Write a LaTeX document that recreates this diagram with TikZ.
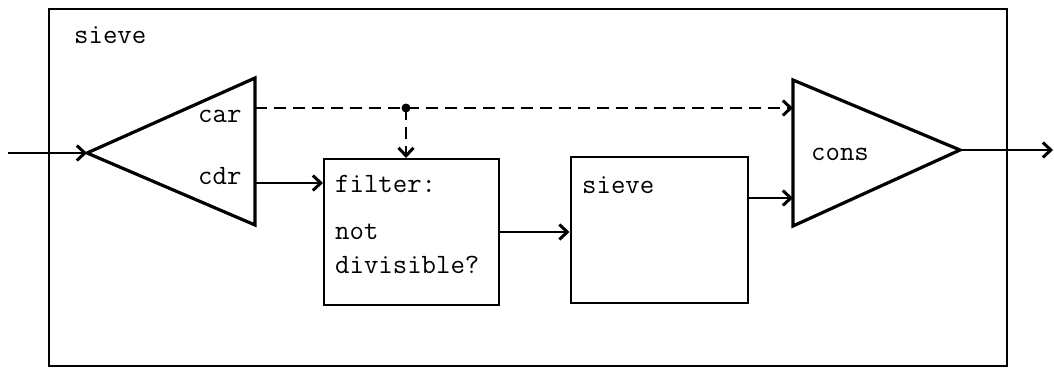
\documentclass[tikz,border=0pt]{standalone}
\usetikzlibrary{arrows.meta,calc}
\begin{document}
\begin{tikzpicture}[x=1pt,y=-1pt,
  arr/.style={-{Straight Barb[length=8pt,width=15pt,line width=3pt]},line width=1.8pt},
  boxstyle/.style={draw,line width=2pt,inner sep=0pt},
  tri/.style={line width=3.2pt,line join=miter},
  lbl/.style={font=\fontsize{28}{30}\selectfont\ttfamily,inner sep=0pt,anchor=base west}]
\useasboundingbox (0,0) rectangle (1054,367);
% outer box
\node[boxstyle,line width=2.6pt,minimum width=958pt,minimum height=357pt] (outer) at (528,187.5) {};
\node[lbl] (outerlbl) at (74,43) {sieve};
% split triangle
\coordinate (sapex) at (87,153);
\coordinate (stop) at (255,78);
\coordinate (sbot) at (255,225);
\draw[tri] (sapex) -- (stop) -- (sbot) -- cycle;
\node[lbl] (car) at (198,122) {car};
\node[lbl] (cdr) at (198,184) {cdr};
\coordinate (carout) at (255,108);
\coordinate (cdrout) at (255,183);
% cons triangle
\coordinate (capex) at (960,150);
\coordinate (ctop) at (793,80);
\coordinate (cbot) at (793,226);
\draw[tri] (capex) -- (ctop) -- (cbot) -- cycle;
\node[lbl] (conslbl) at (811,160) {cons};
\coordinate (consin1) at (793,108);
\coordinate (consin2) at (793,198);
% filter box
\node[boxstyle,minimum width=175pt,minimum height=146pt] (filter) at (411.5,232) {};
\node[lbl] (f1) at (335,192) {filter:};
\node[lbl] (f2) at (335,239) {not};
\node[lbl] (f3) at (335,273) {divisible?};
% inner sieve box
\node[boxstyle,minimum width=177pt,minimum height=146pt] (sieve) at (659,230) {};
\node[lbl] (sievelbl) at (582,193) {sieve};
% connectors
\coordinate (in) at (8,153);
\coordinate (out) at (1053,150);
\coordinate (dot) at (406,108);
\draw[arr] (in) -- (sapex);
\draw[arr] (cdrout) -- (cdrout -| filter.west);
\draw[arr,dashed,dash pattern=on 12pt off 7pt] (carout) -- (consin1);
\fill (dot) circle (4.5pt);
\draw[arr,dashed,dash pattern=on 12pt off 7pt] (dot) -- (dot |- filter.north);
\draw[arr] (filter.east) -- (filter.east -| sieve.west);
\draw[arr] (consin2 -| sieve.east) -- (consin2);
\draw[arr] (capex) -- (out);
\end{tikzpicture}
\end{document}
